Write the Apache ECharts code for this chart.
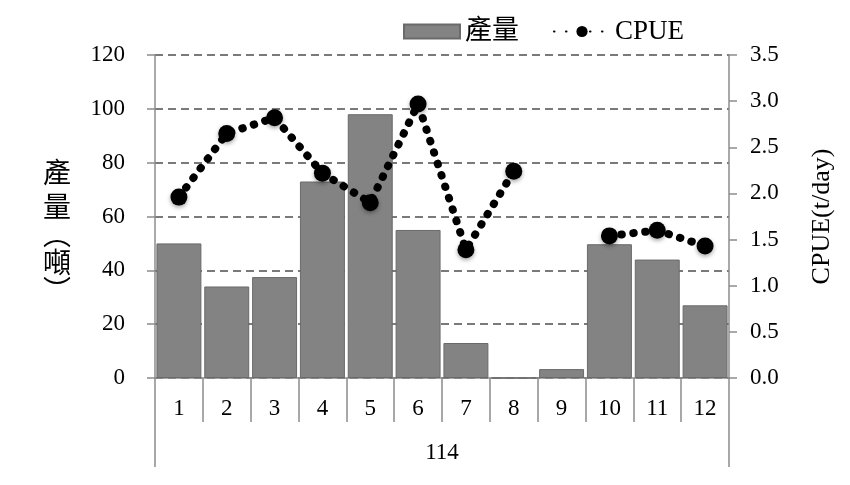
<!DOCTYPE html>
<html><head><meta charset="utf-8">
<script src="https://cdn.jsdelivr.net/npm/echarts@6/dist/echarts.min.js"></script>
<style>html,body{margin:0;padding:0;background:#fff}#c{width:850px;height:485px}</style>
</head><body><div id="c"></div>
<script>
const months = ['1','2','3','4','5','6','7','8','9','10','11','12'];
const yearLabels = ['114'];
const production = [50, 34, 37.5, 73, 98, 55, 13, 0, 3.3, 49.7, 44, 27];
const cpue = [1.96, 2.65, 2.82, 2.22, 1.90, 2.97, 1.39, 2.24, null, 1.54, 1.60, 1.43];
const leftTicks = {min: 0, max: 120, interval: 20};
const rightTicks = {min: 0, max: 3.5, interval: 0.5};

const serif = '"Liberation Serif", "Noto Sans CJK TC", serif';
const cjk = '"Noto Sans CJK TC", serif';
const axisGray = '#8c8c8c';
const chart = echarts.init(document.getElementById('c'));
chart.setOption({
  animation: false,
  backgroundColor: '#fff',
  textStyle: {fontFamily: serif, color: '#000'},
  legend: {
    top: 13, left: 398, itemGap: 34,
    itemWidth: 56, itemHeight: 14,
    textStyle: {fontFamily: serif, fontSize: 27, color: '#000'},
    data: [{name: '產量', icon: 'rect'}, {name: 'CPUE'}]
  },
  grid: {left: 155, right: 121, top: 55, bottom: 107, outerBoundsMode: 'none', containLabel: false},
  xAxis: [{
    type: 'category', data: months, position: 'bottom',
    axisLine: {lineStyle: {color: axisGray, width: 1.5}},
    axisTick: {show: true, interval: 0, length: 44, lineStyle: {color: axisGray, width: 1.5}},
    axisLabel: {interval: 0, margin: 19, fontSize: 23, color: '#000', fontFamily: serif}
  }, {
    type: 'category', data: yearLabels, position: 'bottom',
    axisLine: {show: false},
    axisTick: {show: true, length: 89, lineStyle: {color: axisGray, width: 1.5}},
    axisLabel: {margin: 63, fontSize: 23, color: '#000', fontFamily: serif}
  }],
  yAxis: [{
    type: 'value', min: leftTicks.min, max: leftTicks.max, interval: leftTicks.interval,
    name: '{a|產}\n{a|量}\n{p|︵}\n{a|噸}\n{p|︶}', nameLocation: 'middle', nameRotate: 0, nameGap: 98,
    nameTextStyle: {
      fontFamily: cjk, fontSize: 28, color: '#000', align: 'center', verticalAlign: 'middle',
      padding: [23, 0, 0, 0],
      rich: {
        a: {fontFamily: cjk, fontSize: 28, lineHeight: 34, color: '#000'},
        p: {fontFamily: cjk, fontSize: 28, lineHeight: 22, color: '#000'}
      }
    },
    axisLine: {show: true, lineStyle: {color: axisGray, width: 1.5}},
    axisTick: {show: true, length: 8, lineStyle: {color: axisGray, width: 1.5}},
    axisLabel: {margin: 30, fontSize: 23, color: '#000', fontFamily: serif},
    splitLine: {show: true, lineStyle: {color: '#7a7a7a', width: 2, type: [8, 5]}}
  }, {
    type: 'value', min: rightTicks.min, max: rightTicks.max, interval: rightTicks.interval,
    name: 'CPUE(t/day)', nameLocation: 'middle', nameRotate: 90, nameGap: 80,
    nameTextStyle: {fontFamily: serif, fontSize: 26, color: '#000'},
    axisLine: {show: true, lineStyle: {color: axisGray, width: 1.5}},
    axisTick: {show: true, length: 8, lineStyle: {color: axisGray, width: 1.5}},
    axisLabel: {margin: 21, fontSize: 23, color: '#000', fontFamily: serif, formatter: v => v.toFixed(1)},
    splitLine: {show: false}
  }],
  series: [{
    name: '產量', type: 'bar', data: production, xAxisIndex: 0, yAxisIndex: 0,
    barCategoryGap: '6%',
    itemStyle: {color: '#838383', borderColor: '#6a6a6a', borderWidth: 1}
  }, {
    name: 'CPUE', type: 'line', data: cpue, xAxisIndex: 0, yAxisIndex: 1,
    connectNulls: false, symbol: 'circle', symbolSize: 17,
    lineStyle: {color: '#000', width: 8, type: [0.5, 11.5], cap: 'round'},
    itemStyle: {color: '#000', shadowColor: 'rgba(0,0,0,0.35)', shadowBlur: 4, shadowOffsetY: 2}
  }]
});
</script></body></html>
